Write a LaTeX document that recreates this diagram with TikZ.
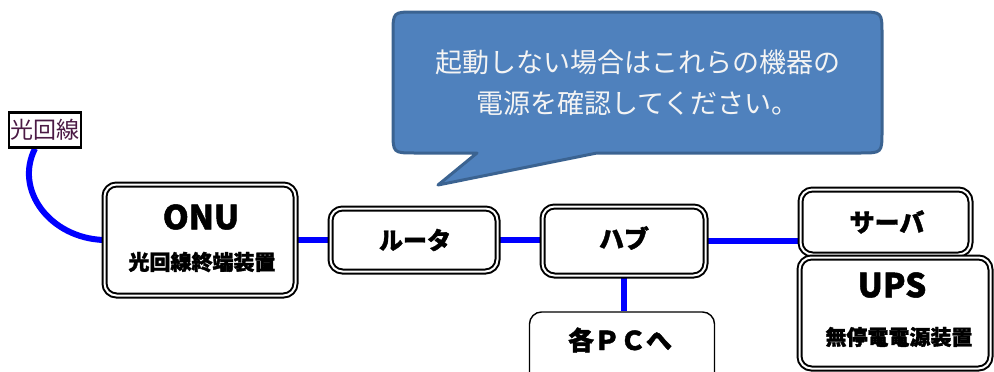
\documentclass[tikz,border=0pt]{standalone}
\usepackage{fontspec}
\setmainfont{Noto Sans CJK JP}[BoldFeatures={FakeBold=1.5}]
\usetikzlibrary{backgrounds}
\definecolor{calfill}{HTML}{4F81BD}
\definecolor{caldraw}{HTML}{3B6391}
\definecolor{lblpurple}{HTML}{4B1A45}
\definecolor{netblue}{HTML}{0000FF}
\definecolor{caltextc}{HTML}{F4F4F4}
\tikzset{
  dbox/.style={draw=black, line width=2pt, double=white, double distance=2pt,
    rounded corners=12pt, fill=white, inner sep=0pt},
  sbox/.style={draw=black, line width=1.4pt, rounded corners=12pt, fill=white, inner sep=0pt},
  net/.style={draw=netblue, line width=6pt},
  btxt/.style={inner sep=0pt, font=\bfseries},
  caltext/.style={inner sep=0pt, text=caltextc, font=\fontsize{27}{30}\selectfont},
}
\begin{document}
\begin{tikzpicture}[x=1pt,y=-1pt]
\useasboundingbox (0,0) rectangle (994,372);
% callout
\draw[fill=calfill, draw=caldraw, line width=3pt, line join=round]
  (597,153) -- (860,153) .. controls (882,153) .. (882,131) -- (882,34)
  .. controls (882,12) .. (860,12) -- (415,12) .. controls (393,12) .. (393,34)
  -- (393,131) .. controls (393,153) .. (415,153) -- (477,153) -- (438,185) -- cycle;
\node[caltext] (cl1) at (637.5,62) {起動しない場合はこれらの機器の};
\node[caltext] (cl2) at (637.5,103) {電源を確認してください。};
% fibre label
\node[draw=black, line width=2.2pt, inner sep=1.5pt, minimum height=35pt, text=lblpurple,
  fill=white, font=\fontsize{23}{23}\selectfont] (fiber) at (45,130) {光回線};
% boxes
\node[dbox, minimum width=191pt, minimum height=111pt] (onu) at (200,240) {};
\node[btxt, font=\bfseries\fontsize{33}{33}\selectfont] (onuA) at (201,217) {ONU};
\node[btxt, font=\bfseries\fontsize{21}{21}\selectfont] (onuB) at (202,262) {光回線終端装置};

\node[dbox, minimum width=167pt, minimum height=63pt] (router) at (414,240) {};
\node[btxt, font=\bfseries\fontsize{24}{24}\selectfont] (routerA) at (415,240) {ルータ};

\node[dbox, minimum width=163pt, minimum height=69pt] (hub) at (624,241) {};
\node[btxt, font=\bfseries\fontsize{25}{25}\selectfont] (hubA) at (624,238) {ハブ};

\node[sbox, minimum width=185pt, minimum height=88pt] (pc) at (622,356) {};
\node[btxt, font=\bfseries\fontsize{26}{26}\selectfont] (pcA) at (620,340) {各ＰＣへ};

\node[dbox, minimum width=170pt, minimum height=65pt] (server) at (885.5,222) {};
\node[btxt, font=\bfseries\fontsize{25}{25}\selectfont] (serverA) at (887,222) {サーバ};

\node[dbox, minimum width=191pt, minimum height=111pt] (ups) at (895,313) {};
\node[btxt, font=\bfseries\fontsize{33}{33}\selectfont] (upsA) at (892,285) {UPS};
\node[btxt, font=\bfseries\fontsize{21}{21}\selectfont] (upsB) at (899,337) {無停電電源装置};
% network lines
\begin{scope}[on background layer]
\draw[net] ([xshift=-10pt]fiber.south) .. controls (14,190) and (50,238) .. (onu.west);
\draw[net] (onu.east) -- (router.west);
\draw[net] (router.east) -- (router.east -| hub.west);
\draw[net] (hub.east) -- (hub.east -| server.west);
\draw[net] (hub.south) -- (hub.south |- pc.north);
\end{scope}
\end{tikzpicture}
\end{document}
